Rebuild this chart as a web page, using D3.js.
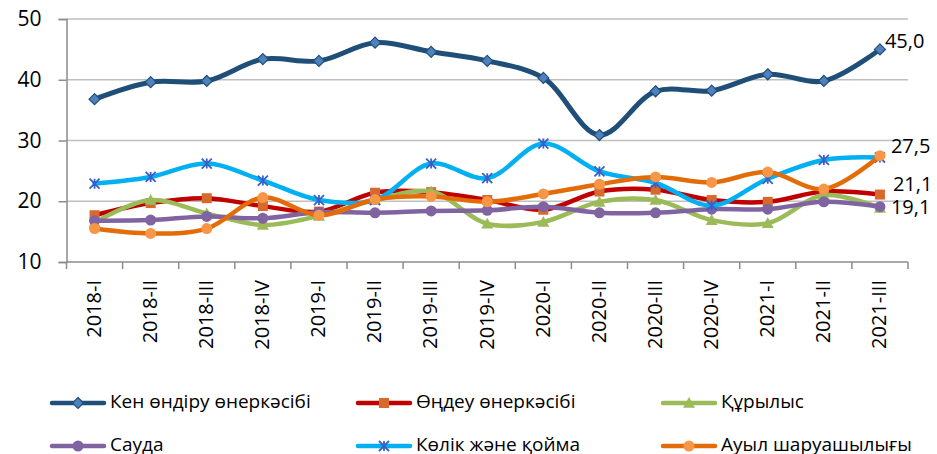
<!DOCTYPE html>
<html><head><meta charset="utf-8">
<script src="https://cdn.jsdelivr.net/npm/d3@7"></script>
<style>
html,body{margin:0;padding:0;background:#fff;}
svg text{font-family:"Open Sans","Noto Sans",sans-serif;fill:#000;}
</style></head>
<body>
<svg id="chart" width="937" height="454"></svg>
<script>
const categories = ["2018-I","2018-II","2018-III","2018-IV","2019-I","2019-II","2019-III","2019-IV","2020-I","2020-II","2020-III","2020-IV","2021-I","2021-II","2021-III"];
const seriesNames = ["Кен өндіру өнеркәсібі","Өңдеу өнеркәсібі","Құрылыс","Сауда","Көлік және қойма","Ауыл шаруашылығы"];
const mining       = [36.8,39.6,39.8,43.4,43.1,46.1,44.6,43.1,40.3,30.9,38.1,38.2,40.9,39.8,45.0];
const processing   = [17.7,19.7,20.5,19.2,18.3,21.4,21.5,20.2,18.6,21.6,21.9,20.2,19.9,21.6,21.1];
const construction = [16.5,20.2,18.0,16.1,17.6,20.2,21.6,16.3,16.6,19.9,20.2,16.9,16.4,21.0,18.9];
const trade        = [16.8,16.9,17.5,17.2,18.2,18.1,18.4,18.5,19.1,18.1,18.1,18.7,18.7,19.9,19.1];
const transport    = [22.9,24.0,26.2,23.4,20.2,20.2,26.2,23.8,29.5,24.9,23.0,19.3,23.7,26.8,27.2];
const agriculture  = [15.5,14.7,15.5,20.6,17.7,20.3,20.8,19.9,21.2,22.8,24.0,23.1,24.8,22.0,27.5];
const yTicks = [10,20,30,40,50];
const endLabels = ["45,0","21,1","19,1","27,5"]; // mining, processing, trade, agriculture

const styles = [
  {line:"#1F4E79", fill:"#4F81BD", stroke:"#1F4E79", marker:"diamond", w:5},
  {line:"#C00000", fill:"#D8692C", stroke:"#D8692C", marker:"square", w:4.5},
  {line:"#9BBB59", fill:"#9BBB59", stroke:"#9BBB59", marker:"triangle", w:4.5},
  {line:"#8064A2", fill:"#8064A2", stroke:"#8064A2", marker:"circle", w:4.5},
  {line:"#00B0F0", fill:"none", stroke:"#3A5FC8", marker:"star", w:4.5},
  {line:"#E36C09", fill:"#F79646", stroke:"#F79646", marker:"circle", w:4.5}
];
const allSeries = [mining, processing, construction, trade, transport, agriculture];

const svg = d3.select("#chart");
const x = d3.scaleBand().domain(categories).range([66.5, 908]);
const y = d3.scaleLinear().domain([10,50]).range([262, 19]);

// gridlines
svg.append("g").selectAll("line").data(yTicks.filter(t=>t>10)).join("line")
  .attr("x1",66.5).attr("x2",908).attr("y1",d=>y(d)).attr("y2",d=>y(d))
  .attr("stroke","#BFBFBF").attr("stroke-width",1.5);

// y axis
const yAxis = svg.append("g").attr("transform","translate(66.5,0)")
  .call(d3.axisLeft(y).tickValues(yTicks).tickSize(8).tickPadding(17).tickFormat(d3.format("d")));
yAxis.select(".domain").attr("stroke","#8C8C8C").attr("stroke-width",1.5);
yAxis.selectAll(".tick line").attr("stroke","#8C8C8C").attr("stroke-width",1.5);
yAxis.selectAll("text").attr("font-size","21px").attr("font-family","'Open Sans'").attr("fill","#000");

// x axis
const xg = svg.append("g").attr("transform","translate(0,262)");
xg.append("line").attr("x1",66.5).attr("x2",908).attr("stroke","#8C8C8C").attr("stroke-width",1.5);
const bounds = categories.map(c=>x(c)).concat([x(categories[categories.length-1])+x.bandwidth()]);
xg.selectAll("line.tk").data(bounds).join("line").attr("class","tk")
  .attr("x1",d=>d).attr("x2",d=>d).attr("y1",0).attr("y2",7)
  .attr("stroke","#8C8C8C").attr("stroke-width",1.5);
xg.selectAll("text").data(categories).join("text")
  .attr("transform",d=>`translate(${x(d)+x.bandwidth()/2+1},18) rotate(-90)`)
  .attr("text-anchor","end").attr("dominant-baseline","middle")
  .attr("font-size","20px").text(d=>d);

const line = d3.line().x((d,i)=>x(categories[i])+x.bandwidth()/2).y(d=>y(d)).curve(d3.curveCatmullRom.alpha(0.5));

function drawMarker(g, type, cx, cy, st, scale){
  scale = scale || 1;
  if(type==="diamond"){
    const r=5.5*scale;
    g.append("path").attr("d",`M${cx},${cy-r}L${cx+r},${cy}L${cx},${cy+r}L${cx-r},${cy}Z`)
      .attr("fill",st.fill).attr("stroke",st.stroke).attr("stroke-width",1.2);
  } else if(type==="square"){
    const r=5*scale;
    g.append("rect").attr("x",cx-r).attr("y",cy-r).attr("width",2*r).attr("height",2*r).attr("fill",st.fill);
  } else if(type==="triangle"){
    const r=6*scale;
    g.append("path").attr("d",`M${cx},${cy-r}L${cx+r},${cy+r*0.8}L${cx-r},${cy+r*0.8}Z`).attr("fill",st.fill);
  } else if(type==="circle"){
    g.append("circle").attr("cx",cx).attr("cy",cy).attr("r",5.5*scale).attr("fill",st.fill);
  } else if(type==="star"){
    const r=5*scale;
    g.append("path").attr("d",`M${cx-r},${cy-r}L${cx+r},${cy+r}M${cx-r},${cy+r}L${cx+r},${cy-r}M${cx},${cy-r}L${cx},${cy+r}`)
      .attr("stroke",st.stroke).attr("stroke-width",1.8).attr("fill","none");
  }
}

// series
allSeries.forEach((vals,si)=>{
  const st = styles[si];
  const g = svg.append("g");
  g.append("path").datum(vals).attr("d",line).attr("fill","none")
    .attr("stroke",st.line).attr("stroke-width",st.w).attr("stroke-linejoin","round").attr("stroke-linecap","round");
  vals.forEach((v,i)=>drawMarker(g, st.marker, x(categories[i])+x.bandwidth()/2, y(v), st));
});

// end data labels
const lastX = x(categories[categories.length-1])+x.bandwidth()/2;
const labelData = [
  {t:endLabels[0], dx:5, yy:43},
  {t:endLabels[1], dx:13, yy:185.5},
  {t:endLabels[2], dx:11, yy:208.5},
  {t:endLabels[3], dx:11, yy:147.5}
];
svg.append("g").selectAll("text").data(labelData).join("text")
  .attr("x",d=>lastX+d.dx).attr("y",d=>d.yy).attr("dominant-baseline","middle")
  .attr("font-size","20px").text(d=>d.t);

// legend
const legPos = [[50,403],[356,403],[661,403],[50,446],[356,446],[661,446]];
seriesNames.forEach((name,si)=>{
  const [lx,ly] = legPos[si];
  const st = styles[si];
  const g = svg.append("g");
  g.append("line").attr("x1",lx+2).attr("x2",lx+54).attr("y1",ly).attr("y2",ly)
    .attr("stroke",st.line).attr("stroke-width",4.5).attr("stroke-linecap","round");
  drawMarker(g, st.marker, lx+28, ly, st);
  g.append("text").attr("x",lx+60).attr("y",ly).attr("dominant-baseline","middle")
    .attr("font-size","19px").text(name);
});
</script>
</body></html>
